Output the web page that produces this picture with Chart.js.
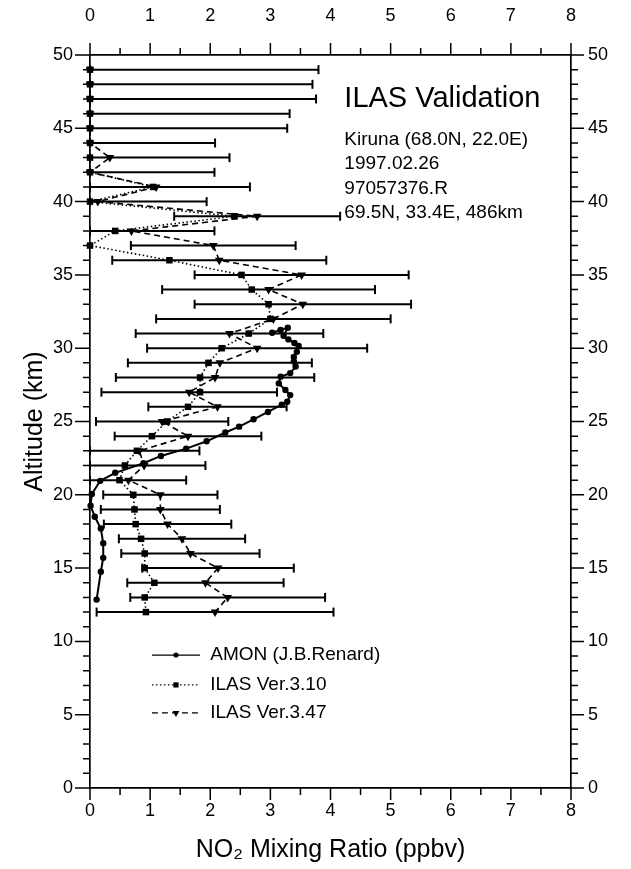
<!DOCTYPE html>
<html>
<head>
<meta charset="utf-8">
<title>ILAS Validation - NO2 profile</title>
<script src="https://cdn.jsdelivr.net/npm/chart.js@4.4.1/dist/chart.umd.min.js"></script>
<style>
    html, body { margin: 0; padding: 0; background: #fff; }
    #wrap { width: 631px; height: 869px; }
</style>
</head>
<body>
<div id="wrap"><canvas id="no2-profile"></canvas></div>
<script>
// ILAS retrieval levels (km)
const ilasAlt = [49, 48, 47, 46, 45, 44, 43, 42, 41, 40, 39, 38, 37, 36, 35, 34, 33, 32, 31, 30,
                 29, 28, 27, 26, 25, 24, 23, 22, 21, 20, 19, 18, 17, 16, 15, 14, 13, 12];

// ILAS Ver.3.10 NO2 (ppbv)
const ilas310 = [0, 0, 0, 0, 0, 0, 0, 0, 1.05, 0, 2.4, 0.42, 0, 1.32, 2.52, 2.69, 2.97, 3.0, 2.64, 2.19,
                 1.97, 1.83, 1.83, 1.63, 1.28, 1.03, 0.78, 0.58, 0.49, 0.72, 0.74, 0.76, 0.85, 0.91, 0.91, 1.07, 0.91, 0.93];

// ILAS Ver.3.47 NO2 (ppbv) and its error
const ilas347 = [0, 0, 0, 0, 0, 0, 0.33, 0, 1.1, 0.13, 2.78, 0.69, 2.05, 2.15, 3.52, 2.97, 3.54, 3.05, 2.32, 2.78,
                 2.16, 2.08, 1.65, 2.12, 1.2, 1.63, 0.82, 0.9, 0.64, 1.17, 1.17, 1.29, 1.53, 1.67, 2.13, 1.92, 2.29, 2.08];
const ilas347Err = [3.8, 3.7, 3.76, 3.32, 3.28, 2.08, 1.99, 2.07, 1.56, 1.81, 1.38, 1.38, 1.37, 1.78, 1.78, 1.77, 1.8, 1.95, 1.56, 1.83,
                    1.53, 1.65, 1.46, 1.15, 1.1, 1.22, 1.0, 1.02, 0.96, 0.95, 0.99, 1.06, 1.05, 1.15, 1.26, 1.3, 1.62, 1.97];

// AMON balloon profile
const amonNO2 = [3.03, 3.17, 3.29, 3.22, 3.30, 3.40, 3.47, 3.44, 3.39, 3.39, 3.42, 3.33, 3.17, 3.14, 3.25, 3.33, 3.28, 3.19,
                 2.96, 2.72, 2.48, 2.25, 1.94, 1.6, 1.18, 0.89, 0.42, 0.17, 0.03, 0.01, 0.08, 0.18, 0.22, 0.22, 0.18, 0.11];
const amonAlt = [31.05, 31.25, 31.4, 30.85, 30.6, 30.35, 30.15, 29.75, 29.4, 29.1, 28.75, 28.3, 28.05, 27.6, 27.15, 26.8, 26.35, 26.15,
                 25.65, 25.15, 24.65, 24.25, 23.65, 23.15, 22.65, 22.15, 21.5, 20.95, 20.05, 19.25, 18.5, 17.7, 16.7, 15.7, 14.75, 12.85];

// axis ticks
const xTickValues = [0, 1, 2, 3, 4, 5, 6, 7, 8];
const yTickValues = [0, 5, 10, 15, 20, 25, 30, 35, 40, 45, 50];

const seriesLabels = ['AMON (J.B.Renard)', 'ILAS Ver.3.10', 'ILAS Ver.3.47'];
const infoTitle = 'ILAS Validation';
const infoLines = ['Kiruna (68.0N, 22.0E)', '1997.02.26', '97057376.R', '69.5N, 33.4E, 486km'];

const FONT = "'Liberation Sans', Arial, Helvetica, sans-serif";
Chart.defaults.font.family = FONT;
Chart.defaults.color = '#000';

function pts(xs, ys) {
    return xs.map((v, i) => ({ x: v, y: ys[i] }));
}

// series first so they sit on top of the error bars
const datasets = [
    {
        label: seriesLabels[0],
        data: pts(amonNO2, amonAlt),
        showLine: true,
        borderColor: '#000',
        borderWidth: 2,
        pointStyle: 'circle',
        pointRadius: 3.2,
        pointBackgroundColor: '#000',
        pointBorderWidth: 0,
        clip: false
    },
    {
        label: seriesLabels[1],
        data: pts(ilas310, ilasAlt),
        showLine: true,
        borderColor: '#000',
        borderWidth: 1.6,
        borderDash: [1.5, 2.5],
        pointStyle: 'rect',
        pointRadius: 4.6,
        pointBackgroundColor: '#000',
        pointBorderWidth: 0,
        clip: false
    },
    {
        label: seriesLabels[2],
        data: pts(ilas347, ilasAlt),
        showLine: true,
        borderColor: '#000',
        borderWidth: 1.6,
        borderDash: [6, 4],
        pointStyle: 'triangle',
        pointRotation: 180,
        pointRadius: 5,
        pointBackgroundColor: '#000',
        pointBorderWidth: 0,
        clip: false
    }
];

// horizontal error bars of Ver.3.47, lower end stops at zero
ilasAlt.forEach((alt, i) => {
    datasets.push({
        label: 'err',
        data: [
            { x: Math.max(0, ilas347[i] - ilas347Err[i]), y: alt },
            { x: ilas347[i] + ilas347Err[i], y: alt }
        ],
        showLine: true,
        borderColor: '#000',
        borderWidth: 2,
        pointStyle: 'line',
        pointRotation: 90,
        pointRadius: 4.5,
        pointBorderColor: '#000',
        pointBorderWidth: 2,
        clip: false
    });
});

// major / minor tick marks on all four sides
const tickMarks = {
    id: 'tickMarks',
    afterDraw(chart) {
        const { ctx, chartArea: a, scales } = chart;
        ctx.save();
        ctx.strokeStyle = '#000';
        ctx.lineWidth = 1.5;
        ctx.beginPath();
        for (let v = 0; v <= 8; v += 0.5) {
            const x = scales.x.getPixelForValue(v);
            const len = v % 1 === 0 ? 12 : 7;
            ctx.moveTo(x, a.bottom);
            ctx.lineTo(x, a.bottom + len);
            ctx.moveTo(x, a.top);
            ctx.lineTo(x, a.top - len);
        }
        for (let v = 0; v <= 50; v++) {
            const y = scales.y.getPixelForValue(v);
            const major = v % 5 === 0;
            ctx.moveTo(a.left, y);
            ctx.lineTo(a.left - (major ? 15 : 7), y);
            ctx.moveTo(a.right, y);
            ctx.lineTo(a.right + (major ? 13 : 7), y);
        }
        ctx.stroke();
        ctx.restore();
    }
};

// station / orbit notes in the upper right
const infoBox = {
    id: 'infoBox',
    afterDraw(chart) {
        const { ctx, scales } = chart;
        const x = scales.x.getPixelForValue(4.23);
        ctx.save();
        ctx.fillStyle = '#000';
        ctx.textAlign = 'left';
        ctx.textBaseline = 'middle';
        ctx.font = '29px ' + FONT;
        ctx.fillText(infoTitle, x, scales.y.getPixelForValue(47.0));
        ctx.font = '19px ' + FONT;
        const rows = [44.2, 42.55, 40.9, 39.25];
        infoLines.forEach((t, i) => ctx.fillText(t, x, scales.y.getPixelForValue(rows[i])));
        ctx.restore();
    }
};

// legend drawn inside the plot, line sample with marker in the middle
const insideLegend = {
    id: 'insideLegend',
    afterDraw(chart) {
        const { ctx, scales } = chart;
        const x1 = scales.x.getPixelForValue(1.03);
        const x2 = scales.x.getPixelForValue(1.83);
        const xt = scales.x.getPixelForValue(2.0);
        const rows = [9.07, 7.03, 5.12];
        ctx.save();
        ctx.font = '19px ' + FONT;
        ctx.textAlign = 'left';
        ctx.textBaseline = 'middle';
        for (let i = 0; i < 3; i++) {
            const ds = chart.data.datasets[i];
            const y = scales.y.getPixelForValue(rows[i]);
            ctx.strokeStyle = '#000';
            ctx.lineWidth = 1.3;
            ctx.setLineDash(ds.borderDash || []);
            ctx.beginPath();
            ctx.moveTo(x1, y);
            ctx.lineTo(x2, y);
            ctx.stroke();
            ctx.setLineDash([]);
            ctx.fillStyle = '#000';
            Chart.helpers.drawPoint(ctx, {
                pointStyle: ds.pointStyle,
                rotation: ds.pointRotation || 0,
                radius: ds.pointRadius * 0.8,
                borderWidth: 0
            }, (x1 + x2) / 2, y);
            ctx.fillText(seriesLabels[i], xt, y);
        }
        ctx.restore();
    }
};

function fixedTicks(values) {
    return function (scale) {
        scale.ticks = values.map(v => ({ value: v }));
    };
}

const axisBorder = { display: true, color: '#000', width: 1.7 };
const noGrid = { display: false, drawTicks: false };
const tickFont = { font: { size: 18 }, color: '#000', maxRotation: 0 };

new Chart(document.getElementById('no2-profile'), {
    type: 'scatter',
    data: { datasets: datasets },
    options: {
        responsive: true,
        maintainAspectRatio: false,
        animation: false,
        layout: { padding: 0 },
        plugins: {
            legend: { display: false },
            tooltip: { enabled: false }
        },
        scales: {
            x: {
                type: 'linear',
                position: 'bottom',
                min: 0,
                max: 8,
                afterBuildTicks: fixedTicks(xTickValues),
                afterFit(s) { s.height = 81; },
                grid: noGrid,
                border: axisBorder,
                ticks: Object.assign({ padding: 12 }, tickFont),
                title: {
                    display: true,
                    text: 'NO\u2082 Mixing Ratio (ppbv)',
                    font: { size: 25 },
                    color: '#000',
                    padding: { top: 0, bottom: 4 }
                }
            },
            x2: {
                type: 'linear',
                position: 'top',
                min: 0,
                max: 8,
                afterBuildTicks: fixedTicks(xTickValues),
                afterFit(s) { s.height = 55; },
                grid: noGrid,
                border: axisBorder,
                ticks: Object.assign({ padding: 28 }, tickFont)
            },
            y: {
                type: 'linear',
                position: 'left',
                min: 0,
                max: 50,
                afterBuildTicks: fixedTicks(yTickValues),
                afterFit(s) { s.width = 90; },
                grid: noGrid,
                border: axisBorder,
                ticks: Object.assign({ padding: 17 }, tickFont),
                title: {
                    display: true,
                    text: 'Altitude (km)',
                    font: { size: 25 },
                    color: '#000',
                    padding: { top: 20, bottom: 0 }
                }
            },
            y2: {
                type: 'linear',
                position: 'right',
                min: 0,
                max: 50,
                afterBuildTicks: fixedTicks(yTickValues),
                afterFit(s) { s.width = 60; },
                grid: noGrid,
                border: axisBorder,
                ticks: Object.assign({ padding: 17 }, tickFont)
            }
        }
    },
    plugins: [tickMarks, infoBox, insideLegend]
});
</script>
</body>
</html>
